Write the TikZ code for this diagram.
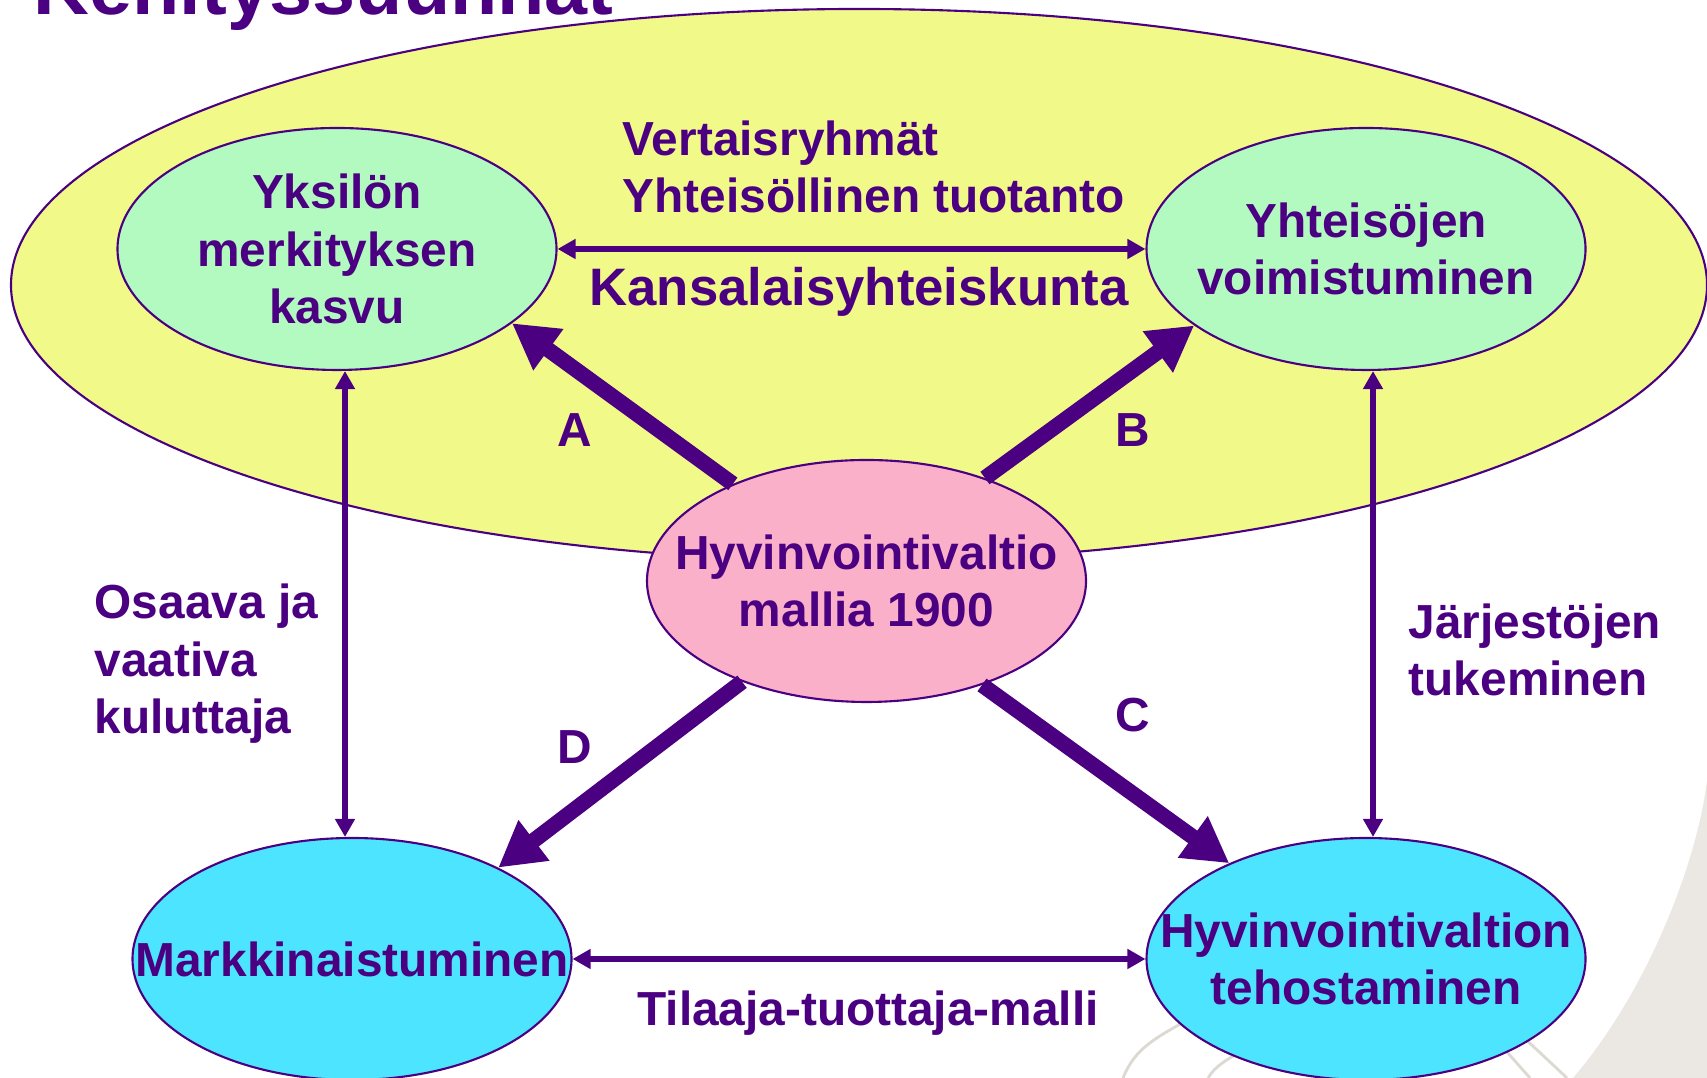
\documentclass[tikz,border=0pt]{standalone}
\usepackage{fontspec}
\setmainfont{Liberation Sans}
\usetikzlibrary{arrows.meta,shapes.geometric}
\definecolor{violetti}{RGB}{75,0,130}
\definecolor{keltainen}{RGB}{241,249,137}
\definecolor{vihrea}{RGB}{178,250,192}
\definecolor{pinkki}{RGB}{250,176,200}
\definecolor{syaani}{RGB}{77,228,255}
\definecolor{taustaharmaa}{RGB}{235,232,227}
\definecolor{viivaharmaa}{RGB}{220,217,210}

\begin{document}
\begin{tikzpicture}[
  soikio/.style={ellipse,draw=violetti,line width=0.6pt,inner sep=0pt,minimum width=4.39cm,minimum height=2.42cm},
  teksti/.style={align=center,text=violetti,font=\fontsize{13.6}{16.4}\selectfont\bfseries,inner sep=0pt},
  kirjain/.style={text=violetti,font=\fontsize{13.6}{16.4}\selectfont\bfseries,inner sep=0pt},
  paksu/.style={-{Triangle[length=0.45cm,width=0.48cm]},line width=4.4pt,violetti},
  ohut/.style={{Triangle[length=0.18cm,width=0.19cm]}-{Triangle[length=0.18cm,width=0.19cm]},line width=1.5pt,violetti},
  koriste/.style={draw=viivaharmaa,line width=0.8pt}
]
\useasboundingbox (0,0) rectangle (17.07,10.78);
\clip (0,0) rectangle (17.07,10.78);
\fill[white] (0,0) rectangle (17.07,10.78);

\fill[taustaharmaa] (17.07,2.98) .. controls (16.98,2.2) and (16.5,0.9) .. (15.73,0)
  -- (17.07,0) -- cycle;
\draw[koriste] (11.23,0) .. controls (11.35,0.3) and (11.55,0.4) .. (11.95,0.62);
\draw[koriste] (12.08,0) .. controls (12.15,0.12) and (12.3,0.22) .. (12.6,0.35);
\draw[koriste] (14.75,0.62) -- (15.30,0);
\draw[koriste] (15.05,0.58) -- (15.67,0);

\node[ellipse,draw=violetti,line width=0.6pt,fill=keltainen,inner sep=0pt,
  minimum width=16.96cm,minimum height=5.52cm] (kansalais) at (8.59,7.93) {};

\node[soikio,fill=vihrea] (yksilo) at (3.37,8.29) {};
\node[teksti] (yksiloteksti) at (yksilo) {Yksilön\\merkityksen\\kasvu};
\node[soikio,fill=vihrea] (yhteiso) at (13.66,8.29) {};
\node[teksti] (yhteisoteksti) at (yhteiso) {Yhteisöjen\\voimistuminen};
\node[soikio,fill=pinkki] (keskus) at (8.665,4.97) {};
\node[teksti] (keskusteksti) at (keskus) {Hyvinvointivaltio\\mallia 1900};
\node[soikio,fill=syaani] (markkina) at (3.52,1.19) {};
\node[teksti] (markkinateksti) at (markkina) {Markkinaistuminen};
\node[soikio,fill=syaani] (tehostus) at (13.66,1.19) {};
\node[teksti] (tehostusteksti) at (tehostus) {Hyvinvointivaltion\\tehostaminen};

\node[anchor=base west,text=violetti,font=\fontsize{22}{26}\selectfont\bfseries,inner sep=0pt]
  (otsikko) at (0.33,10.63) {Kehityssuunnat};
\node[teksti,align=left,anchor=west] (vertais) at (6.22,9.11)
  {Vertaisryhmät\\Yhteisöllinen tuotanto};
\node[teksti,font=\fontsize{15}{18}\selectfont\bfseries] (kansalaisteksti) at (8.59,7.86)
  {Kansalaisyhteiskunta};
\node[teksti,align=left,anchor=west] (kuluttaja) at (0.94,4.14)
  {Osaava ja\\vaativa\\kuluttaja};
\node[teksti,align=left,anchor=west] (jarjesto) at (14.08,4.28)
  {Järjestöjen\\tukeminen};
\node[teksti] (tilaaja) at (8.68,0.65) {Tilaaja-tuottaja-malli};

\node[kirjain] (a) at (5.75,6.48) {A};
\node[kirjain] (b) at (11.33,6.48) {B};
\node[kirjain] (c) at (11.33,3.63) {C};
\node[kirjain] (d) at (5.75,3.31) {D};

\coordinate (vasenyla) at ([xshift=0.08cm]yksilo.south);
\coordinate (vasenala) at (vasenyla |- markkina.north);
\coordinate (oikeayla) at ([xshift=0.07cm]yhteiso.south);
\coordinate (oikeaala) at (oikeayla |- tehostus.north);

\draw[ohut] (yksilo.east) -- (yhteiso.west);
\draw[ohut] (markkina.east) -- (tehostus.west);
\draw[ohut] (vasenyla) -- (vasenala);
\draw[ohut] (oikeayla) -- (oikeaala);

\draw[paksu] (keskus.144) -- (yksilo.337);
\draw[paksu] (keskus.41) -- (yhteiso.204);
\draw[paksu] (keskus.318) -- (tehostus.145);
\draw[paksu] (keskus.219) -- (markkina.32);
\end{tikzpicture}
\end{document}
